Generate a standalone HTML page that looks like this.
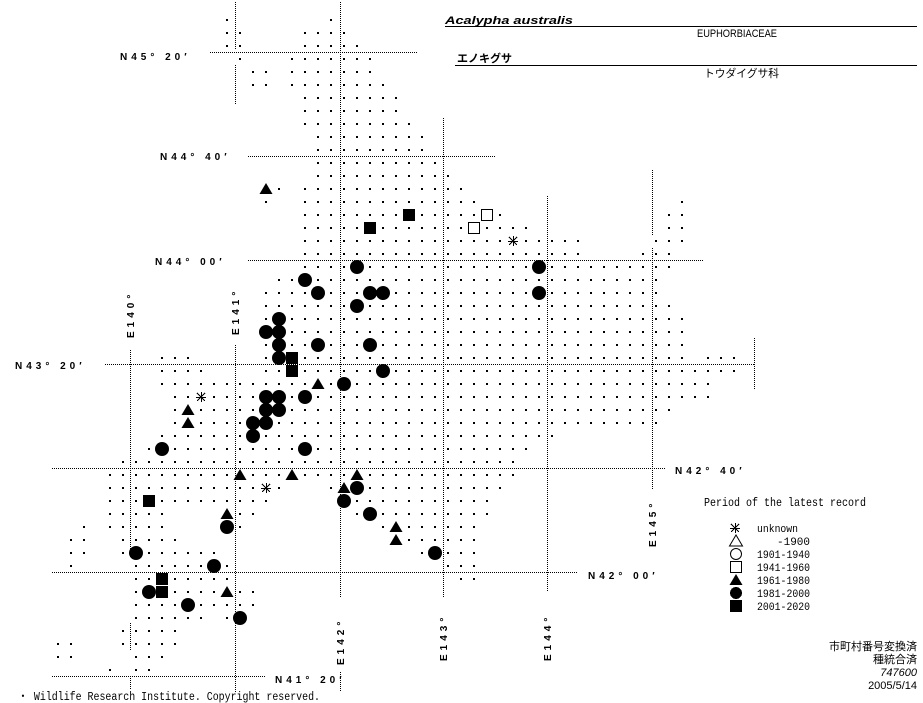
<!DOCTYPE html>
<html><head><meta charset="utf-8"><style>
html,body{margin:0;padding:0;background:#fff;}
svg{display:block;}
.lab{font-family:"Liberation Sans",sans-serif;font-weight:bold;font-size:10px;letter-spacing:4px;fill:#000;}
.jp{font-family:"Liberation Sans","Noto Sans CJK JP",sans-serif;font-size:11px;fill:#000;}
</style></head><body>
<svg id="s" width="923" height="703" viewBox="0 0 923 703" xmlns="http://www.w3.org/2000/svg" shape-rendering="crispEdges">
<rect width="923" height="703" fill="#fff"/>
<g id="lines" stroke="#000" stroke-width="1" stroke-dasharray="1 1" fill="none"></g>
<g id="dots" fill="#000"></g>
<g id="syms"></g>
<text class="lab" x="120" y="60">N45° 20′</text>
<text class="lab" x="160" y="160">N44° 40′</text>
<text class="lab" x="155" y="265">N44° 00′</text>
<text class="lab" x="15" y="369">N43° 20′</text>
<text class="lab" x="675" y="474">N42° 40′</text>
<text class="lab" x="588" y="579">N42° 00′</text>
<text class="lab" x="275" y="683">N41° 20′</text>
<text class="lab" transform="translate(134,338) rotate(-90)">E140°</text>
<text class="lab" transform="translate(239,335) rotate(-90)">E141°</text>
<text class="lab" transform="translate(344,665) rotate(-90)">E142°</text>
<text class="lab" transform="translate(447,661) rotate(-90)">E143°</text>
<text class="lab" transform="translate(551,661) rotate(-90)">E144°</text>
<text class="lab" transform="translate(656,547) rotate(-90)">E145°</text>
<text x="445" y="24" font-family="Liberation Sans,sans-serif" font-size="11" font-weight="bold" font-style="italic" textLength="128" lengthAdjust="spacingAndGlyphs">Acalypha australis</text>
<line x1="445" y1="26.5" x2="917" y2="26.5" stroke="#000"/>
<text class="jp" x="697" y="37" font-size="10.5" textLength="80" lengthAdjust="spacingAndGlyphs">EUPHORBIACEAE</text>
<text class="jp" x="457" y="62" font-size="12" font-weight="bold">エノキグサ</text>
<line x1="455" y1="65.5" x2="917" y2="65.5" stroke="#000"/>
<text class="jp" x="704" y="77" textLength="75" lengthAdjust="spacingAndGlyphs">トウダイグサ科</text>
<text x="704" y="506" font-family="Liberation Mono,monospace" font-size="12" textLength="162" lengthAdjust="spacingAndGlyphs">Period of the latest record</text>
<g font-family="Liberation Mono,monospace" font-size="11">
<text x="757" y="532" textLength="41" lengthAdjust="spacingAndGlyphs">unknown</text>
<text x="777" y="545">-1900</text>
<text x="757" y="558" textLength="53" lengthAdjust="spacingAndGlyphs">1901-1940</text>
<text x="757" y="571" textLength="53" lengthAdjust="spacingAndGlyphs">1941-1960</text>
<text x="757" y="584" textLength="53" lengthAdjust="spacingAndGlyphs">1961-1980</text>
<text x="757" y="597" textLength="53" lengthAdjust="spacingAndGlyphs">1981-2000</text>
<text x="757" y="610" textLength="53" lengthAdjust="spacingAndGlyphs">2001-2020</text>
</g>
<g font-family="Liberation Sans,Noto Sans CJK JP,sans-serif" font-size="11" text-anchor="end">
<text x="917" y="650">市町村番号変換済</text>
<text x="917" y="663">種統合済</text>
<text x="917" y="676" font-style="italic">747600</text>
<text x="917" y="689">2005/5/14</text>
</g>
<text x="18" y="700" font-family="Liberation Mono,monospace" font-size="11.5" textLength="302" lengthAdjust="spacingAndGlyphs">・ Wildlife Research Institute. Copyright reserved.</text>
</svg>
<script>
(function(){
var NS="http://www.w3.org/2000/svg";
function el(t,a,p){var e=document.createElementNS(NS,t);for(var k in a)e.setAttribute(k,a[k]);p.appendChild(e);return e;}
var L=document.getElementById('lines'),D=document.getElementById('dots'),S=document.getElementById('syms');
var H=[[52,210,417],[156,248,495],[260,248,703],[364,105,754],[468,52,665],[572,52,578],[676,52,265]];
H.forEach(function(h){el('line',{x1:h[1],y1:h[0]+0.5,x2:h[2],y2:h[0]+0.5},L);});
var V=[[130,350,558],[130,623,650],[130,676,690],[235,2,50],[235,65,105],[235,345,692],[340,2,598],[340,672,692],[443,118,598],[547,196,592],[652,170,235],[652,248,490],[754,338,390]];
V.forEach(function(v){el('line',{x1:v[0]+0.5,y1:v[1],x2:v[0]+0.5,y2:v[2]},L);});
var R={1:[[17],[25]],2:[[17,18],[23,26]],3:[[17,18],[23,27]],4:[[18],[22,28]],5:[[19,20],[22,28]],6:[[19,20],[22,29]],
7:[[23,30]],8:[[23,30]],9:[[23,31]],10:[[24,32]],11:[[24,32]],12:[[24,33]],13:[[24,34]],14:[[21],[23,35]],
15:[[20],[23,36],[52]],16:[[23,38],[51,52]],17:[[23,40],[51,52]],18:[[23,44],[50,52]],19:[[23,44],[49,51]],
20:[[23,51]],21:[[21,50]],22:[[20,50]],23:[[20,51]],24:[[20,52]],25:[[20,52]],26:[[20,52]],
27:[[12,14],[20,52],[54,56]],28:[[12,15],[20,56]],29:[[12,54]],30:[[13,54]],31:[[13,51]],32:[[13,50]],
33:[[12,42]],34:[[11,40]],35:[[9,39]],36:[[8,39]],37:[[8,21],[25,38]],38:[[8,20],[26,37]],
39:[[8,12],[17,19],[27,37]],40:[[6],[8,12],[17,18],[29,36]],41:[[5,6],[9,13],[30,36]],42:[[5,6],[9,16],[32,36]],
43:[[5],[10,17],[34,36]],44:[[10,17],[35,36]],45:[[10,19]],46:[[10,19]],47:[[10,15],[17,18]],48:[[9,13]],
49:[[4,5],[9,13]],50:[[4,5],[10,12]],51:[[8],[10,11]]};
function X(c){return 6+13*c;} function Y(r){return 7+13*r;}
var sym={};
var T=[[20,14],[24,29],[14,31],[14,32],[18,36],[22,36],[27,36],[26,37],[17,39],[30,40],[30,41],[17,45]];
var C=[[27,20],[41,20],[23,21],[24,22],[28,22],[29,22],[41,22],[27,23],[21,24],[20,25],[21,25],[21,26],[24,26],[28,26],
[21,27],[29,28],[26,29],[20,30],[21,30],[23,30],[20,31],[21,31],[19,32],[20,32],[19,33],[12,34],[23,34],[27,37],[26,38],
[28,39],[17,40],[10,42],[33,42],[16,43],[11,45],[14,46],[18,47]];
var Q=[[31,16],[28,17],[22,27],[22,28],[11,38],[12,44],[12,45]];
var O=[[37,16],[36,17]];
var A=[[39,18],[15,30],[20,37]];
[T,C,Q,O,A].forEach(function(a){a.forEach(function(p){sym[p[0]+','+p[1]]=1;});});
for(var r in R){R[r].forEach(function(g){var a=g[0],b=g.length>1?g[1]:g[0];for(var c=a;c<=b;c++){if(sym[c+','+r])continue;el('rect',{x:X(c)-1,y:Y(+r)-1,width:2,height:2},D);}});}
function tri(x,y,p,fill){el('polygon',{points:(x-6.5)+','+(y+5)+' '+(x+6.5)+','+(y+5)+' '+x+','+(y-6),fill:fill?'#000':'none',stroke:'#000','stroke-width':fill?0:1,'shape-rendering':'auto'},p);}
function circ(x,y,p,fill){el('circle',{cx:x,cy:y,r:fill?7:5.5,fill:fill?'#000':'none',stroke:'#000','stroke-width':fill?0:1,'shape-rendering':'auto'},p);}
function sq(x,y,p,fill){if(fill)el('rect',{x:x-6,y:y-6,width:12,height:12,fill:'#000'},p);else el('rect',{x:x-5.5,y:y-5.5,width:11,height:11,fill:'#fff',stroke:'#000'},p);}
function ast(x,y,p){var g=el('g',{stroke:'#000','stroke-width':1},p);el('line',{x1:x-5,y1:y+0.5,x2:x+5,y2:y+0.5},g);el('line',{x1:x+0.5,y1:y-5,x2:x+0.5,y2:y+5},g);el('line',{x1:x-4,y1:y-4,x2:x+4,y2:y+4},g);el('line',{x1:x+4,y1:y-4,x2:x-4,y2:y+4},g);}
T.forEach(function(p){tri(X(p[0]),Y(p[1]),S,1);});
C.forEach(function(p){circ(X(p[0]),Y(p[1]),S,1);});
Q.forEach(function(p){sq(X(p[0]),Y(p[1]),S,1);});
O.forEach(function(p){sq(X(p[0]),Y(p[1]),S,0);});
A.forEach(function(p){ast(X(p[0]),Y(p[1]),S);});
ast(735,528,S);tri(736,541,S,0);circ(736,554,S,0);sq(736,567,S,0);tri(736,580,S,1);el('circle',{cx:736,cy:593,r:6,fill:'#000'},S);sq(736,606,S,1);
})();
</script>
</body></html>
